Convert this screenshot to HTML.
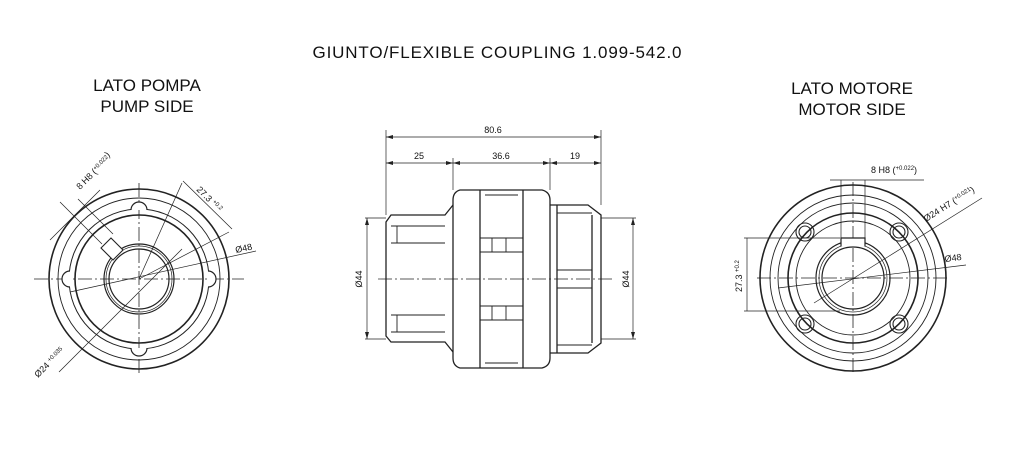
<!DOCTYPE html>
<html><head><meta charset="utf-8"><style>
html,body{margin:0;padding:0;background:#fff;width:1024px;height:475px;overflow:hidden}
svg{display:block}
text{font-family:"Liberation Sans",sans-serif;fill:#111}
</style></head><body>
<svg width="1024" height="475" viewBox="0 0 1024 475" xmlns="http://www.w3.org/2000/svg">
<text x="497" y="58" font-size="17" text-anchor="middle" textLength="369">GIUNTO/FLEXIBLE COUPLING 1.099-542.0</text>
<text x="147" y="91" font-size="17" text-anchor="middle">LATO POMPA</text>
<text x="147" y="112" font-size="17" text-anchor="middle">PUMP SIDE</text>
<text x="852" y="94" font-size="17" text-anchor="middle">LATO MOTORE</text>
<text x="852" y="115" font-size="17" text-anchor="middle">MOTOR SIDE</text>

<!-- LEFT VIEW -->
<g stroke="#222" fill="none">
<line x1="34" y1="279" x2="244" y2="279" stroke-width="0.8" stroke-dasharray="14,3,2,3"/>
<line x1="139" y1="183" x2="139" y2="374" stroke-width="0.8" stroke-dasharray="14,3,2,3"/>
<circle cx="139" cy="279" r="90" stroke-width="1.6"/>
<circle cx="139" cy="279" r="81" stroke-width="0.9"/>
<circle cx="139" cy="279" r="70" stroke-width="1"/>
<circle cx="139" cy="279" r="64" stroke-width="1.6"/>
<circle cx="139" cy="279" r="35" stroke-width="1.2"/>
<circle cx="139" cy="279" r="33" stroke-width="0.7"/>
<circle cx="139" cy="279" r="30" stroke-width="1.2"/>
<g fill="#fff" stroke-width="1.2">
<path d="M131 210 a8 8 0 1 1 16 0"/>
<path d="M131 348 a8 8 0 1 0 16 0"/>
<path d="M70 271 a8 8 0 1 0 0 16"/>
<path d="M208 271 a8 8 0 1 1 0 16"/>
</g>
<path d="M101 248 l10 -10 l12 12 l-10 10 z" stroke-width="1.1" fill="#fff"/>
<g stroke-width="0.7">
<line x1="50" y1="240" x2="100" y2="190"/>
<line x1="102" y1="244" x2="60" y2="202"/>
<line x1="113" y1="234" x2="78" y2="199"/>
<line x1="59" y1="372" x2="182" y2="249"/>
<line x1="139" y1="279" x2="182" y2="183"/>
<line x1="183" y1="181" x2="232" y2="229"/>
<line x1="139" y1="279" x2="229" y2="232"/>
<line x1="70" y1="292" x2="256" y2="251"/>
</g>
</g>
<g font-size="9">
<text transform="translate(80,190) rotate(-45)">8 H8 (<tspan font-size="6" dy="-3">+0.022</tspan>)</text>
<text transform="translate(196,190) rotate(45)">27.3 <tspan font-size="6" dy="-3">+0.2</tspan></text>
<text x="236" y="253" transform="rotate(-12 236 253)">Ø48</text>
<text transform="translate(38,378) rotate(-45)">Ø24 <tspan font-size="6" dy="-3">+0.035</tspan></text>
</g>

<!-- CENTER VIEW -->
<g stroke="#222" fill="none">
<g stroke-width="0.7">
<line x1="386" y1="130" x2="386" y2="215"/>
<line x1="601" y1="130" x2="601" y2="205"/>
<line x1="453" y1="158" x2="453" y2="190"/>
<line x1="550" y1="158" x2="550" y2="190"/>
<line x1="386" y1="137" x2="601" y2="137"/>
<line x1="386" y1="163" x2="601" y2="163"/>
<line x1="365" y1="218" x2="386" y2="218"/>
<line x1="365" y1="339" x2="386" y2="339"/>
<line x1="367" y1="218" x2="367" y2="339"/>
<line x1="601" y1="218" x2="636" y2="218"/>
<line x1="601" y1="339" x2="636" y2="339"/>
<line x1="633" y1="218" x2="633" y2="339"/>
</g>
<line x1="378" y1="279" x2="612" y2="279" stroke-width="0.7" stroke-dasharray="14,3,2,3"/>
<g stroke-width="1.3">
<path d="M453 205 L445 215 L391 215 L386 222 L386 336 L391 342 L445 342 L453 352"/>
<path d="M460 190 L542 190 Q550 192 550 200 L550 358 Q550 366 542 368 L460 368 Q453 366 453 358 L453 200 Q453 192 460 190 Z"/>
<line x1="480" y1="190" x2="480" y2="368"/>
<line x1="523" y1="190" x2="523" y2="368"/>
<path d="M550 205 L588 205 L601 215 L601 343 L588 353 L550 353"/>
<line x1="557" y1="205" x2="557" y2="353"/>
<line x1="592" y1="215" x2="592" y2="343"/>
</g>
<g stroke-width="0.9">
<path d="M391 226 L445 226 M391 332 L445 332 M397 226 L397 243 M397 315 L397 332 M391 243 L445 243 M391 315 L445 315"/>
<path d="M480 238 L523 238 M480 252 L523 252 M480 306 L523 306 M480 320 L523 320"/>
<path d="M492 238 L492 252 M506 238 L506 252 M492 306 L492 320 M506 306 L506 320"/>
<path d="M485 195 L518 195 M485 363 L518 363"/>
<path d="M557 213 L592 213 M557 345 L592 345 M557 270 L592 270 M557 288 L592 288"/>
</g>
</g>
<g font-size="9" text-anchor="middle">
<text x="493" y="133">80.6</text>
<text x="419" y="159">25</text>
<text x="501" y="159">36.6</text>
<text x="575" y="159">19</text>
<text transform="translate(362,279) rotate(-90)">Ø44</text>
<text transform="translate(629,279) rotate(-90)">Ø44</text>
</g>
<g fill="#222">
<path d="M386 137 l7 -2 v4 z M601 137 l-7 -2 v4 z M386 163 l7 -2 v4 z M453 163 l-7 -2 v4 z M453 163 l7 -2 v4 z M550 163 l-7 -2 v4 z M550 163 l7 -2 v4 z M601 163 l-7 -2 v4 z"/>
<path d="M367 218 l-2 7 h4 z M367 339 l-2 -7 h4 z M633 218 l-2 7 h4 z M633 339 l-2 -7 h4 z"/>
</g>

<!-- RIGHT VIEW -->
<g stroke="#222" fill="none">
<line x1="757" y1="278" x2="950" y2="278" stroke-width="0.8" stroke-dasharray="14,3,2,3"/>
<line x1="853" y1="182" x2="853" y2="375" stroke-width="0.8" stroke-dasharray="14,3,2,3"/>
<circle cx="853" cy="278" r="93" stroke-width="1.6"/>
<circle cx="853" cy="278" r="83" stroke-width="0.9"/>
<circle cx="853" cy="278" r="75" stroke-width="0.9"/>
<circle cx="853" cy="278" r="65" stroke-width="1.6"/>
<circle cx="853" cy="278" r="57" stroke-width="0.9"/>
<circle cx="853" cy="278" r="37" stroke-width="1.2"/>
<circle cx="853" cy="278" r="34" stroke-width="0.7"/>
<circle cx="853" cy="278" r="31" stroke-width="1.2"/>
<g stroke-width="1.1">
<circle cx="805" cy="232" r="9"/><circle cx="805" cy="232" r="6"/>
<circle cx="899" cy="232" r="9"/><circle cx="899" cy="232" r="6"/>
<circle cx="805" cy="324" r="9"/><circle cx="805" cy="324" r="6"/>
<circle cx="899" cy="324" r="9"/><circle cx="899" cy="324" r="6"/>
</g>
<path d="M841 246 L841 238 L865 238 L865 246" stroke-width="1.2" fill="#fff"/>
<g stroke-width="0.7">
<line x1="841" y1="180" x2="841" y2="238"/>
<line x1="865" y1="180" x2="865" y2="238"/>
<line x1="830" y1="180" x2="924" y2="180"/>
<line x1="744" y1="238" x2="840" y2="238"/>
<line x1="744" y1="311" x2="840" y2="311"/>
<line x1="747" y1="238" x2="747" y2="311"/>
<line x1="814" y1="303" x2="982" y2="198"/>
<line x1="778" y1="288" x2="966" y2="265"/>
</g>
</g>
<g font-size="9">
<text x="871" y="173">8 H8 (<tspan font-size="6" dy="-3">+0.022</tspan><tspan dy="3">)</tspan></text>
<text transform="translate(926,222) rotate(-32)">Ø24 H7 (<tspan font-size="6" dy="-3">+0.021</tspan><tspan dy="3">)</tspan></text>
<text x="945" y="262" transform="rotate(-7 945 262)">Ø48</text>
<text transform="translate(742,292) rotate(-90)">27.3 <tspan font-size="6" dy="-3">+0.2</tspan></text>
</g>
</svg>
</body></html>
